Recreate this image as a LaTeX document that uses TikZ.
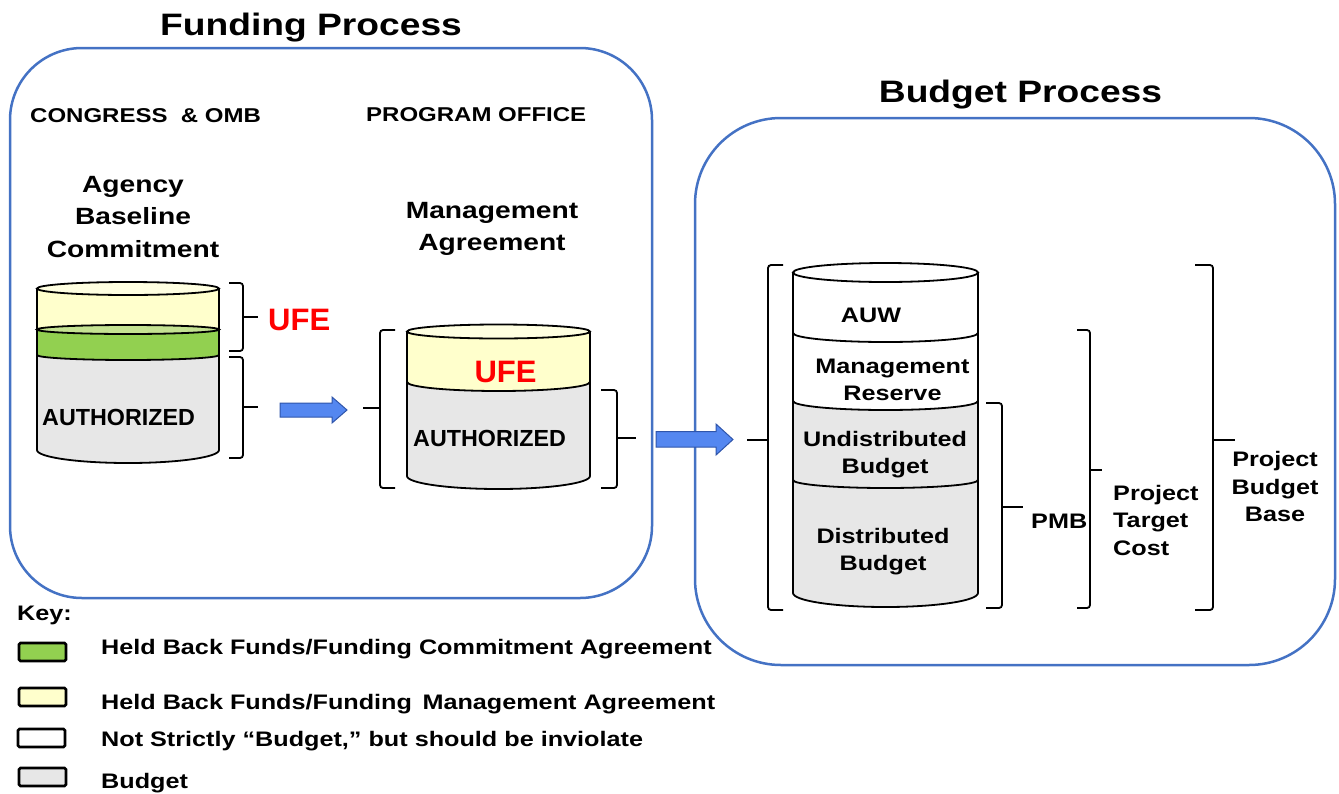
\documentclass[tikz,border=0pt]{standalone}
\usepackage{fontspec}
\usepackage{graphicx}
\setmainfont{Liberation Sans}
\newfontfamily\wf{Liberation Sans}[FakeStretch=1.2]
\newcommand\wfs[2]{\wf\bfseries\fontsize{#1}{#2}\selectfont}
\newcommand\nfs[1]{\bfseries\fontsize{#1}{#1}\selectfont}

\definecolor{frameblue}{RGB}{68,114,196}
\definecolor{arrowfill}{RGB}{84,135,240}
\definecolor{arrowline}{RGB}{47,85,170}
\definecolor{ufeyellow}{RGB}{255,255,204}
\definecolor{ufeyellowlt}{RGB}{255,255,225}
\definecolor{heldgreen}{RGB}{146,208,80}
\definecolor{heldgreenlt}{RGB}{196,226,146}
\definecolor{budgetgray}{RGB}{231,231,231}
\definecolor{ufered}{RGB}{255,0,0}

\tikzset{
  frame/.style={draw=frameblue, line width=2.5pt},
  cylline/.style={draw=black, line width=1.8pt},
  bkt/.style={draw=black, line width=1.8pt, rounded corners=3pt},
  lbl/.style={inner sep=0pt, anchor=base, align=center},
  blockarrow/.style={fill=arrowfill, draw=arrowline, line width=1pt, line join=miter},
  keybox/.style={draw=black, line width=2.8pt, rounded corners=1.5pt},
}

\begin{document}
\begin{tikzpicture}[x=1pt,y=-1pt]
\useasboundingbox (0,0) rectangle (1339,793);

% ---------- frames ----------
\draw[frame, rounded corners=72pt] (10,48) rectangle (652,598);
\draw[frame, rounded corners=86pt] (695,118) rectangle (1335,665);

% ---------- titles and headings (multi-line labels sit on their last baseline) ----------
\node[lbl, font=\wfs{31}{31}] (ftitle) at (311,35) {Funding Process};
\node[lbl, font=\wfs{31}{31}] (btitle) at (1020.5,102) {Budget Process};
\node[lbl, anchor=base west, font=\wfs{20}{20}] (congress) at (30,122) {CONGRESS~~\& OMB};
\node[lbl, anchor=base west, font=\wfs{20}{20}] (progoff) at (366,121) {PROGRAM OFFICE};
\node[lbl, font=\wfs{23.5}{32.5}] (abc) at (133,257) {Agency\\Baseline\\Commitment};
\node[lbl, font=\wfs{23.5}{32}] (magr) at (492,250) {Management\\Agreement};

% ---------- cylinder 1: agency baseline commitment ----------
\path[fill=budgetgray, cylline] (37,350) -- (37,450)
  arc[start angle=180, end angle=360, x radius=91pt, y radius=13pt] -- (219,350);
\path[fill=heldgreen, cylline] (37,329.5) -- (37,355)
  arc[start angle=180, end angle=360, x radius=91pt, y radius=5pt] -- (219,329.5);
\fill[ufeyellow] (37,288.5) rectangle (219,329.5);
\draw[cylline] (37,288.5) -- (37,329.5) (219,288.5) -- (219,329.5);
\path[fill=heldgreenlt, cylline] (128,329.5) ellipse [x radius=91pt, y radius=4.5pt];
\path[fill=ufeyellowlt, cylline] (128,288.5) ellipse [x radius=91pt, y radius=6.5pt];
\node[lbl, anchor=base west, font=\nfs{23.3}] (auth1) at (42,425.5) {AUTHORIZED};

% braces of cylinder 1
\draw[bkt] (229,283) -- (243,283) -- (243,351) -- (229,351);
\draw[bkt] (243,317) -- (258,317);
\draw[bkt] (229,357) -- (243,357) -- (243,458) -- (229,458);
\draw[bkt] (243,407) -- (258,407);
\node[lbl, anchor=base west, text=ufered, font=\nfs{31}] (ufe1) at (268,330) {UFE};

% arrow into the management agreement
\path[blockarrow] (280,403) -- (332,403) -- (332,397) -- (347,410) -- (332,423) -- (332,417) -- (280,417) -- cycle;

% ---------- cylinder 2: management agreement ----------
\draw[bkt] (395,330) -- (380,330) -- (380,488) -- (395,488);
\draw[bkt] (380,408) -- (363,408);
\path[fill=budgetgray, cylline] (407,380) -- (407,476)
  arc[start angle=180, end angle=360, x radius=91.5pt, y radius=13pt] -- (590,380);
\path[fill=ufeyellow, cylline] (407,331.5) -- (407,382)
  arc[start angle=180, end angle=360, x radius=91.5pt, y radius=9pt] -- (590,331.5);
\path[fill=ufeyellowlt, cylline] (498.5,331.5) ellipse [x radius=91.5pt, y radius=7pt];
\node[lbl, text=ufered, font=\nfs{31}] (ufe2) at (505.5,382) {UFE};
\node[lbl, anchor=base west, font=\nfs{23.3}] (auth2) at (413,446.7) {AUTHORIZED};
\draw[bkt] (601,390) -- (617,390) -- (617,488) -- (601,488);
\draw[bkt] (617,438) -- (636,438);

% arrow into the budget process
\path[blockarrow] (656,431.5) -- (716,431.5) -- (716,424) -- (733,439.5) -- (716,455) -- (716,447) -- (656,447) -- cycle;

% ---------- cylinder 3: budget process ----------
\draw[bkt] (783,265) -- (768,265) -- (768,610) -- (783,610);
\draw[bkt] (768,440) -- (747,440);
\path[fill=budgetgray, cylline] (793,401) -- (793,593)
  arc[start angle=180, end angle=360, x radius=92.5pt, y radius=14pt] -- (978,401);
\path[fill=white, cylline] (793,272.5) -- (793,401)
  arc[start angle=180, end angle=360, x radius=92.5pt, y radius=9pt] -- (978,272.5);
\draw[cylline] (793,333) arc[start angle=180, end angle=360, x radius=92.5pt, y radius=9pt];
\draw[cylline] (793,480) arc[start angle=180, end angle=360, x radius=92.5pt, y radius=8pt];
\path[fill=white, cylline] (885.5,272.5) ellipse [x radius=92.5pt, y radius=9.5pt];

\node[lbl, font=\wfs{21}{27}] (auw) at (871,322) {AUW};
\node[lbl, font=\wfs{21}{27}] (mres) at (892.5,400) {Management\\Reserve};
\node[lbl, font=\wfs{21}{27}] (ub) at (885,473.5) {Undistributed\\Budget};
\node[lbl, font=\wfs{21}{27}] (db) at (883,570) {Distributed\\Budget};

% braces on the right of cylinder 3
\draw[bkt] (986,403) -- (1002,403) -- (1002,608) -- (986,608);
\draw[bkt] (1002,507) -- (1023,507);
\node[lbl, anchor=base west, font=\wfs{21}{27}] (pmb) at (1031,528) {PMB};
\draw[bkt] (1077,330) -- (1090,330) -- (1090,608) -- (1077,608);
\draw[bkt] (1090,470) -- (1102,470);
\node[lbl, anchor=base west, align=left, font=\wfs{21}{27.5}] (ptc) at (1113,555) {Project\\Target\\Cost};
\draw[bkt] (1195,265) -- (1213,265) -- (1213,610) -- (1195,610);
\draw[bkt] (1213,440) -- (1235,440);
\node[lbl, font=\wfs{21}{27.5}] (pbb) at (1275,521.5) {Project\\Budget\\Base};

% ---------- key ----------
\node[lbl, anchor=base west, font=\wfs{21}{21}] (key) at (17,620) {Key:};
\path[keybox, fill=heldgreen] (19,643) rectangle (66,661);
\path[keybox, fill=ufeyellow] (19,688) rectangle (66,706);
\path[keybox, fill=white] (18,729) rectangle (65,747);
\path[keybox, fill=budgetgray] (19,768) rectangle (66,786);
\node[lbl, anchor=base west, font=\wfs{21}{21}] (k1) at (101,654) {Held Back Funds/Funding Commitment Agreement};
\node[lbl, anchor=base west, font=\wfs{21}{21}] (k2) at (101,709) {Held Back Funds/Funding\, Management Agreement};
\node[lbl, anchor=base west, font=\wfs{21}{21}] (k3) at (101,746) {Not Strictly “Budget,” but should be inviolate};
\node[lbl, anchor=base west, font=\wfs{21}{21}] (k4) at (101,788) {Budget};
\end{tikzpicture}
\end{document}
